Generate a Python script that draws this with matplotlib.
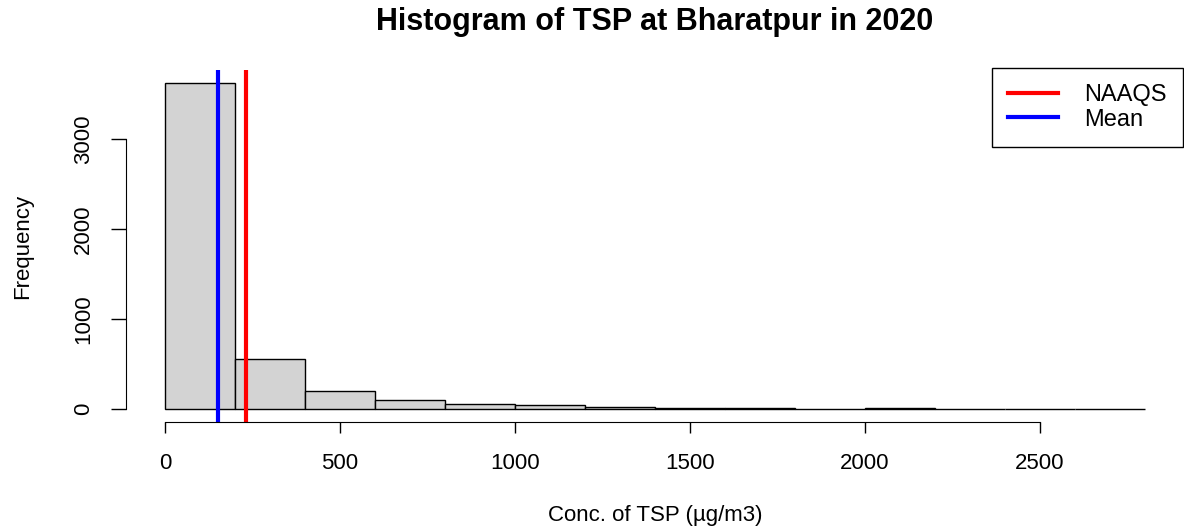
import numpy as np
import matplotlib.pyplot as plt
from matplotlib.lines import Line2D

plt.rcParams['font.family'] = ['Liberation Sans', 'DejaVu Sans']

# histogram bins (200 wide) and counts
bin_edges = np.arange(0, 3000, 200)
counts = [3630, 556, 203, 100, 59, 44, 29, 14, 14, 3, 18, 3, 2, 2]
mean_value = 152
naaqs_value = 231

fig = plt.figure(figsize=(11.84, 5.29), dpi=100)
ax = fig.add_axes([0.1063, 0.2017, 0.8937, 0.6667])

ax.hist(bin_edges[:-1], bins=bin_edges, weights=counts,
        color='#d3d3d3', edgecolor='black', linewidth=1.0)

ax.axvline(naaqs_value, color='red', linewidth=3)
ax.axvline(mean_value, color='blue', linewidth=3)

ax.set_xlim(-112, 2912)
ax.set_ylim(-145, 3775)

# R style axes: detached, only over the tick range
for side in ['top', 'right']:
    ax.spines[side].set_visible(False)
ax.spines['left'].set_bounds(0, 3000)
ax.spines['bottom'].set_bounds(0, 2500)
ax.set_xticks([0, 500, 1000, 1500, 2000, 2500])
ax.set_yticks([0, 1000, 2000, 3000])
ax.tick_params(axis='x', length=8, width=1, labelsize=16, pad=14)
ax.tick_params(axis='y', length=11, width=1, labelsize=16, pad=12,
               labelrotation=90)
for lab in ax.get_yticklabels():
    lab.set_verticalalignment('center')

fig.text(655 / 1184, 1 - 22 / 529, 'Histogram of TSP at Bharatpur in 2020',
         fontsize=22, fontweight='bold', ha='center', va='center')
ax.set_xlabel('Conc. of TSP (µg/m3)', fontsize=16)
ax.set_ylabel('Frequency', fontsize=16)
ax.xaxis.set_label_coords(0.5, -0.263)
ax.yaxis.set_label_coords(-0.098, 0.5)
ax.xaxis.label.set_verticalalignment('center')
ax.yaxis.label.set_verticalalignment('center')

handles = [Line2D([], [], color='red', linewidth=3),
           Line2D([], [], color='blue', linewidth=3)]
leg = ax.legend(handles, ['NAAQS', 'Mean'], loc='upper right',
                bbox_to_anchor=(0.999, 1.005), borderaxespad=0, fontsize=17,
                fancybox=False, framealpha=1, edgecolor='black',
                handlelength=2.1, borderpad=0.7, labelspacing=0.1,
                handletextpad=1.1)
leg.get_frame().set_linewidth(1)

fig.savefig('out.png', dpi=100)
